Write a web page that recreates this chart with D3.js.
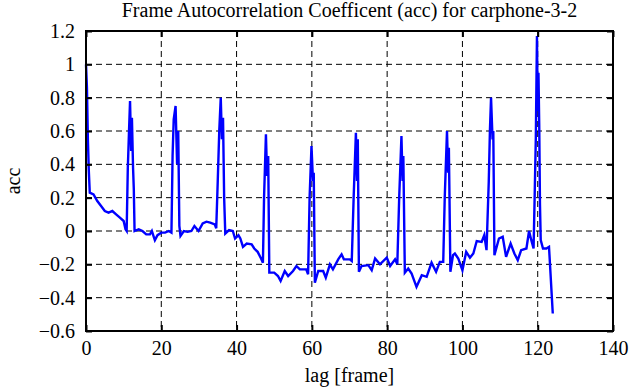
<!DOCTYPE html>
<html>
<head>
<meta charset="utf-8">
<script src="https://cdn.jsdelivr.net/npm/d3@7.9.0/dist/d3.min.js"></script>
<style>
  body { margin: 0; background: #fff; }
  svg text { font-family: "Liberation Serif", "DejaVu Serif", serif; fill: #000; }
</style>
</head>
<body>
<svg id="chart" width="635" height="387"></svg>
<script>
const title = "Frame Autocorrelation Coefficent (acc) for carphone-3-2";
const xLabel = "lag [frame]";
const yLabel = "acc";
const xTicks = [0, 20, 40, 60, 80, 100, 120, 140];
const yTicks = [-0.6, -0.4, -0.2, 0, 0.2, 0.4, 0.6, 0.8, 1, 1.2];

// lag positions (spikes have several samples)
const lags = [
  0, 0.25, 0.5, 0.75, 1, 2, 3, 4, 5, 6, 7, 8, 9, 10, 10.5, 10.8,
  11.1, 11.4, 11.7, 12.0, 12.2, 12.5, 12.7, 12.9, 14, 15, 16, 17, 17.5, 18, 18.3, 19,
  20, 21, 22, 22.7, 23.0, 23.3, 23.8, 24.2, 24.5, 24.8, 25.1, 26, 27, 28, 28.8, 29.9,
  31, 32, 33, 34.2, 34.6, 35.0, 35.4, 35.8, 36.1, 36.4, 36.7, 37, 38, 39, 39.6, 40.5,
  41, 41.7, 42.7, 44, 44.7, 45.6, 46.5, 47, 47.3, 47.8, 48.1, 48.4, 48.7, 50, 51, 51.7,
  52.8, 53.7, 55, 55.9, 56.8, 58.5, 59, 59.4, 59.9, 60.3, 60.5, 60.8, 61.7, 63, 63.7, 64.8,
  65.6, 67, 67.9, 68.5, 70.1, 70.6, 71.1, 71.7, 72.0, 72.2, 72.5, 73.2, 75, 75.9, 76.8, 78.1,
  79.9, 80.8, 82.1, 82.7, 83.2, 83.8, 84.1, 84.3, 84.7, 85.6, 86.5, 87.8, 89.2, 90.5, 91.8, 93,
  94, 94.9, 95.3, 95.9, 96.2, 96.4, 96.8, 97.5, 98, 98.9, 100, 101, 102, 102.9, 103.8, 105.1,
  105.8, 106.4, 107.0, 107.3, 107.6, 108.0, 108.2, 108.5, 109.7, 110.7, 111.6, 112.8, 113.8, 114.7, 115.6, 117,
  117.7, 118.3, 118.9, 119.2, 119.5, 119.8, 120.0, 120.2, 120.4, 120.6, 120.8, 121.4, 122.3, 123, 123.4, 124
];
const acc = [
  1.00, 0.86, 0.55, 0.36, 0.23, 0.22, 0.18, 0.15, 0.12, 0.11, 0.12, 0.10, 0.08, 0.06, 0.01, 0.00,
  0.37, 0.58, 0.78, 0.48, 0.68, 0.38, 0.25, 0.00, 0.01, 0.00, -0.02, -0.02, 0.00, -0.035, -0.055, -0.025,
  -0.01, -0.01, 0.00, -0.01, 0.45, 0.67, 0.75, 0.40, 0.60, 0.03, -0.03, 0.00, -0.005, 0.00, 0.03, 0.00,
  0.045, 0.056, 0.05, 0.04, 0.016, 0.30, 0.60, 0.80, 0.55, 0.68, 0.20, -0.015, 0.006, 0.00, -0.045, -0.025,
  -0.045, -0.095, -0.075, -0.08, -0.105, -0.125, -0.165, -0.19, 0.20, 0.58, 0.33, 0.45, -0.25, -0.25, -0.27, -0.30,
  -0.24, -0.27, -0.24, -0.21, -0.23, -0.23, -0.26, 0.20, 0.51, 0.30, 0.35, -0.31, -0.24, -0.24, -0.28, -0.20,
  -0.23, -0.17, -0.14, -0.17, -0.17, -0.18, 0.20, 0.59, 0.30, 0.55, -0.245, -0.21, -0.205, -0.235, -0.165, -0.20,
  -0.16, -0.21, -0.17, -0.20, 0.20, 0.57, 0.30, 0.45, -0.25, -0.225, -0.255, -0.335, -0.265, -0.275, -0.19, -0.245,
  -0.185, -0.185, 0.20, 0.60, 0.35, 0.50, -0.245, -0.145, -0.135, -0.165, -0.235, -0.125, -0.16, -0.135, -0.06, -0.065,
  -0.025, -0.115, 0.30, 0.60, 0.80, 0.55, 0.60, -0.145, -0.045, -0.035, -0.155, -0.075, -0.135, -0.175, -0.115, -0.105,
  0.00, -0.055, -0.105, 0.22, 0.56, 1.17, 0.72, 0.95, 0.64, 0.16, -0.055, -0.105, -0.105, -0.095, -0.255, -0.495
];

const margin = { top: 31, right: 22, bottom: 56, left: 86 };
const width = 635 - margin.left - margin.right;
const height = 387 - margin.top - margin.bottom;

const svg = d3.select("#chart");
const g = svg.append("g").attr("transform", `translate(${margin.left},${margin.top})`);

const x = d3.scaleLinear().domain([0, 140]).range([0, width]);
const y = d3.scaleLinear().domain([-0.6, 1.2]).range([height, 0]);

// dashed grid
g.append("g").selectAll("line")
  .data(xTicks.slice(1, -1))
  .join("line")
  .attr("x1", d => x(d)).attr("x2", d => x(d))
  .attr("y1", 0).attr("y2", height)
  .attr("stroke", "#000").attr("stroke-width", 1)
  .attr("stroke-dasharray", "6,4");

g.append("g").selectAll("line")
  .data(yTicks.slice(1, -1))
  .join("line")
  .attr("x1", 0).attr("x2", width)
  .attr("y1", d => y(d)).attr("y2", d => y(d))
  .attr("stroke", "#000").attr("stroke-width", 1)
  .attr("stroke-dasharray", "6,4");

// data line
const line = d3.line()
  .x((d, i) => x(lags[i]))
  .y(d => y(d));

g.append("path")
  .datum(acc)
  .attr("fill", "none")
  .attr("stroke", "#0000ff")
  .attr("stroke-width", 2.4)
  .attr("d", line);

// axes: ticks pointing inward on all sides
const fmt = d => d3.format("")(+d.toFixed(1));
const xAxisB = g.append("g").attr("transform", `translate(0,${height})`)
  .call(d3.axisBottom(x).tickValues(xTicks).tickSizeInner(-6).tickSizeOuter(0).tickPadding(10).tickFormat(d3.format("d")));
const xAxisT = g.append("g")
  .call(d3.axisTop(x).tickValues(xTicks).tickSizeInner(-6).tickSizeOuter(0).tickFormat(""));
const yAxisL = g.append("g")
  .call(d3.axisLeft(y).tickValues(yTicks).tickSizeInner(-6).tickSizeOuter(0).tickPadding(11).tickFormat(fmt));
const yAxisR = g.append("g").attr("transform", `translate(${width},0)`)
  .call(d3.axisRight(y).tickValues(yTicks).tickSizeInner(-6).tickSizeOuter(0).tickFormat(""));

[xAxisB, xAxisT, yAxisL, yAxisR].forEach(a => {
  a.attr("font-family", null).attr("font-size", null);
  a.select(".domain").remove();
  a.selectAll(".tick line").attr("stroke", "#000").attr("stroke-width", 2);
  a.selectAll("text")
    .style("font-family", "'Liberation Serif', serif")
    .style("font-size", "20px");
});
yAxisL.selectAll("text").attr("dy", "0.32em");

// frame
g.append("rect")
  .attr("width", width).attr("height", height)
  .attr("fill", "none").attr("stroke", "#000").attr("stroke-width", 2);

// labels
svg.append("text")
  .attr("x", margin.left + width / 2).attr("y", 17)
  .attr("text-anchor", "middle").attr("font-size", 20)
  .text(title);

svg.append("text")
  .attr("x", margin.left + width / 2).attr("y", 382)
  .attr("text-anchor", "middle").attr("font-size", 20)
  .text(xLabel);

svg.append("text")
  .attr("transform", `translate(20,${margin.top + height / 2}) rotate(-90)`)
  .attr("text-anchor", "middle").attr("font-size", 20)
  .text(yLabel);
</script>
</body>
</html>
